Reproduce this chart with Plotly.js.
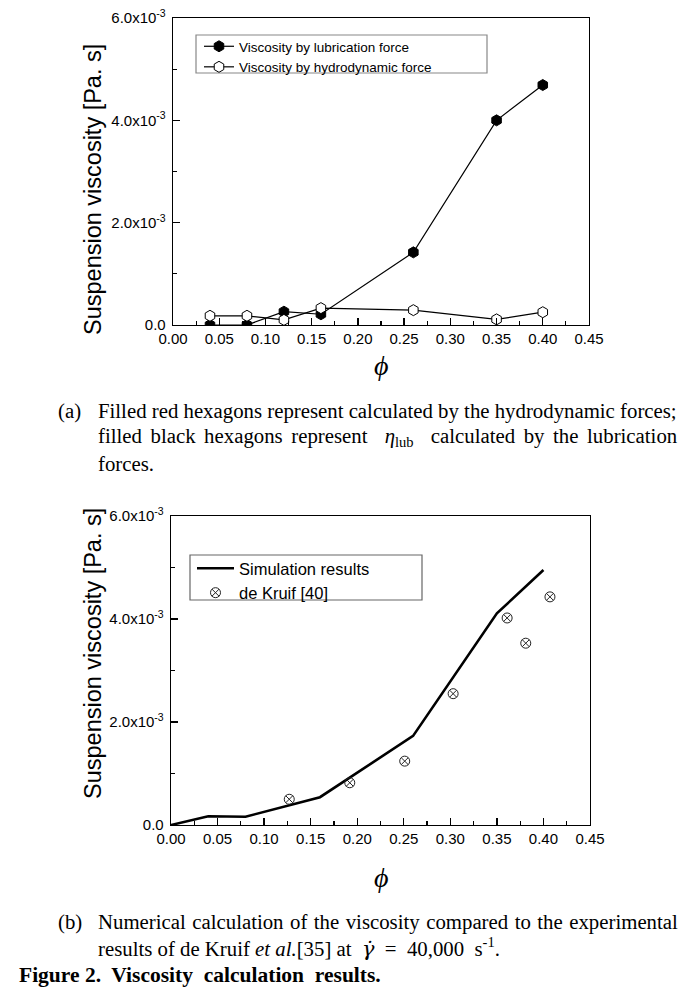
<!DOCTYPE html>
<html><head><meta charset="utf-8">
<script src="https://cdn.plot.ly/plotly-3.0.1.min.js"></script>
<style>html,body{margin:0;padding:0;background:#fff}#chart{width:686px;height:990px}</style>
</head><body><div id="chart"></div>
<script>
// ---- data ----
const phiA = [0.04, 0.08, 0.12, 0.16, 0.26, 0.35, 0.40];
const lubVisc = [0.00000, 0.00000, 0.00026, 0.00021, 0.00142, 0.00400, 0.00469];
const hydroVisc = [0.00018, 0.00018, 0.00010, 0.00033, 0.00029, 0.00011, 0.00025];
const phiSim = [0.00, 0.04, 0.08, 0.16, 0.26, 0.35, 0.40];
const simVisc = [0.00000, 0.00017, 0.00016, 0.00054, 0.00173, 0.00411, 0.00495];
const phiExp = [0.127, 0.192, 0.251, 0.303, 0.361, 0.381, 0.407];
const expVisc = [0.00050, 0.00082, 0.00124, 0.00255, 0.00402, 0.00353, 0.00443];
const xTickVals = [0, 0.05, 0.10, 0.15, 0.20, 0.25, 0.30, 0.35, 0.40, 0.45];
const xTickText = ['0.00','0.05','0.10','0.15','0.20','0.25','0.30','0.35','0.40','0.45'];
const xMinorVals = [0.025, 0.075, 0.125, 0.175, 0.225, 0.275, 0.325, 0.375, 0.425];
const yTickVals = [0, 0.002, 0.004, 0.006];
const yTickText = ['0.0', '2.0x10<sup>-3</sup>', '4.0x10<sup>-3</sup>', '6.0x10<sup>-3</sup>'];
const yMinorVals = [0.001, 0.003, 0.005];
const legendA = ['Viscosity by lubrication force', 'Viscosity by hydrodynamic force'];
const legendB = ['Simulation results', 'de Kruif [40]'];
const yTitle = 'Suspension viscosity [Pa. s]';
const xTitle = '<i>ϕ</i>';

// ---- layout helpers ----
const W = 686, H = 990;
const px = v => v / W;
const py = v => 1 - v / H;
const sans = 'Liberation Sans, Arial, sans-serif';
const serif = 'Liberation Serif, Times New Roman, serif';

function xax(dom, anchor) {
  return {domain: dom, anchor: anchor, range: [0, 0.45], fixedrange: true,
    showline: true, linecolor: '#000', linewidth: 1.3, mirror: true,
    ticks: 'inside', ticklen: 7, tickwidth: 1.3, tickcolor: '#000',
    tickmode: 'array', tickvals: xTickVals, ticktext: xTickText,
    minor: {tickmode: 'array', tickvals: xMinorVals, ticks: 'inside', ticklen: 4, tickwidth: 1.2, tickcolor: '#000'},
    showgrid: false, zeroline: false, automargin: false,
    tickfont: {family: sans, size: 15, color: '#000'}};
}
function yax(dom, anchor) {
  return {domain: dom, anchor: anchor, range: [0, 0.006], fixedrange: true,
    showline: true, linecolor: '#000', linewidth: 1.3, mirror: true,
    ticks: 'inside', ticklen: 7, tickwidth: 1.3, tickcolor: '#000',
    tickmode: 'array', tickvals: yTickVals, ticktext: yTickText,
    minor: {tickmode: 'array', tickvals: yMinorVals, ticks: 'inside', ticklen: 4, tickwidth: 1.2, tickcolor: '#000'},
    showgrid: false, zeroline: false, automargin: false, ticklabelstandoff: 3,
    tickfont: {family: sans, size: 15, color: '#000'}};
}

const traces = [
  {x: phiA, y: lubVisc, name: legendA[0], type: 'scatter', mode: 'lines+markers', xaxis: 'x', yaxis: 'y', legend: 'legend',
   line: {color: '#000', width: 1.2},
   marker: {symbol: 'hexagon', size: 11, color: '#000', line: {color: '#000', width: 1}}},
  {x: phiA, y: hydroVisc, name: legendA[1], type: 'scatter', mode: 'lines+markers', xaxis: 'x', yaxis: 'y', legend: 'legend',
   line: {color: '#000', width: 1.2},
   marker: {symbol: 'hexagon', size: 11, color: '#fff', line: {color: '#000', width: 1}}},
  {x: phiSim, y: simVisc, name: legendB[0], type: 'scatter', mode: 'lines', xaxis: 'x2', yaxis: 'y2', legend: 'legend2',
   line: {color: '#000', width: 2.6}},
  {x: phiExp, y: expVisc, name: legendB[1], type: 'scatter', mode: 'markers', xaxis: 'x2', yaxis: 'y2', legend: 'legend2',
   marker: {symbol: 'circle-x-open', size: 10, color: '#222', line: {color: '#222', width: 1}}}
];

const ann = [];
function add(text, x, y, opts) {
  ann.push(Object.assign({text: text, xref: 'paper', yref: 'paper', x: px(x), y: py(y),
    showarrow: false, xanchor: 'left', yanchor: 'middle',
    font: {family: serif, size: 20.8, color: '#000'}}, opts || {}));
}
// axis titles
add(yTitle, 93, 190, {xanchor: 'center', textangle: -90, font: {family: sans, size: 23.5, color: '#000'}});
add(yTitle, 93, 654, {xanchor: 'center', textangle: -90, font: {family: sans, size: 23.5, color: '#000'}});
add(xTitle, 381, 366, {xanchor: 'center', font: {family: serif, size: 28, color: '#000'}});
add(xTitle, 381, 877, {xanchor: 'center', font: {family: serif, size: 28, color: '#000'}});
// captions
add('(a)', 56, 411);
add('Filled red hexagons represent calculated by the hydrodynamic forces;', 96, 411);
add('<span style="word-spacing:3.4px">filled black hexagons represent  <i>η</i><sub>lub</sub>  calculated by the lubrication</span>', 96, 437);
add('forces.', 96, 463);
add('(b)', 56, 922);
add('<span style="word-spacing:1.3px">Numerical calculation of the viscosity compared to the experimental</span>', 96, 922);
add('results of de Kruif <i>et al.</i>[35] at  <span style="font-family:DejaVu Serif"><i>γ̇</i></span>  =  40,000  s<sup>-1</sup>.', 96, 947);
add('<b>Figure 2.  Viscosity  calculation  results.</b>', 17, 975, {font: {family: serif, size: 21.5, color: '#000'}});

const shapes = [
  {type: 'rect', xref: 'paper', yref: 'paper', x0: px(196), x1: px(487), y0: py(35), y1: py(73),
   line: {color: '#888', width: 1.2}, fillcolor: 'rgba(0,0,0,0)'},
  {type: 'rect', xref: 'paper', yref: 'paper', x0: px(190), x1: px(422), y0: py(555), y1: py(600),
   line: {color: '#666', width: 1.2}, fillcolor: 'rgba(0,0,0,0)'}
];

const layout = {
  width: W, height: H, margin: {l: 0, r: 0, t: 0, b: 0},
  paper_bgcolor: '#fff', plot_bgcolor: '#fff',
  showlegend: true,
  xaxis: xax([px(173), px(589)], 'y'),
  yaxis: yax([py(325), py(18)], 'x'),
  xaxis2: xax([px(171), px(590)], 'y2'),
  yaxis2: yax([py(825), py(516)], 'x2'),
  legend: {x: px(199), y: py(31), xanchor: 'left', yanchor: 'top', bgcolor: 'rgba(0,0,0,0)', borderwidth: 0,
    font: {family: sans, size: 13.5, color: '#000'}, itemwidth: 30, tracegroupgap: 0},
  legend2: {x: px(192), y: py(551), xanchor: 'left', yanchor: 'top', bgcolor: 'rgba(0,0,0,0)', borderwidth: 0,
    font: {family: sans, size: 16.5, color: '#000'}, itemwidth: 37, tracegroupgap: 0},
  annotations: ann,
  shapes: shapes
};

Plotly.newPlot('chart', traces, layout, {staticPlot: true, displayModeBar: false});
</script></body></html>
